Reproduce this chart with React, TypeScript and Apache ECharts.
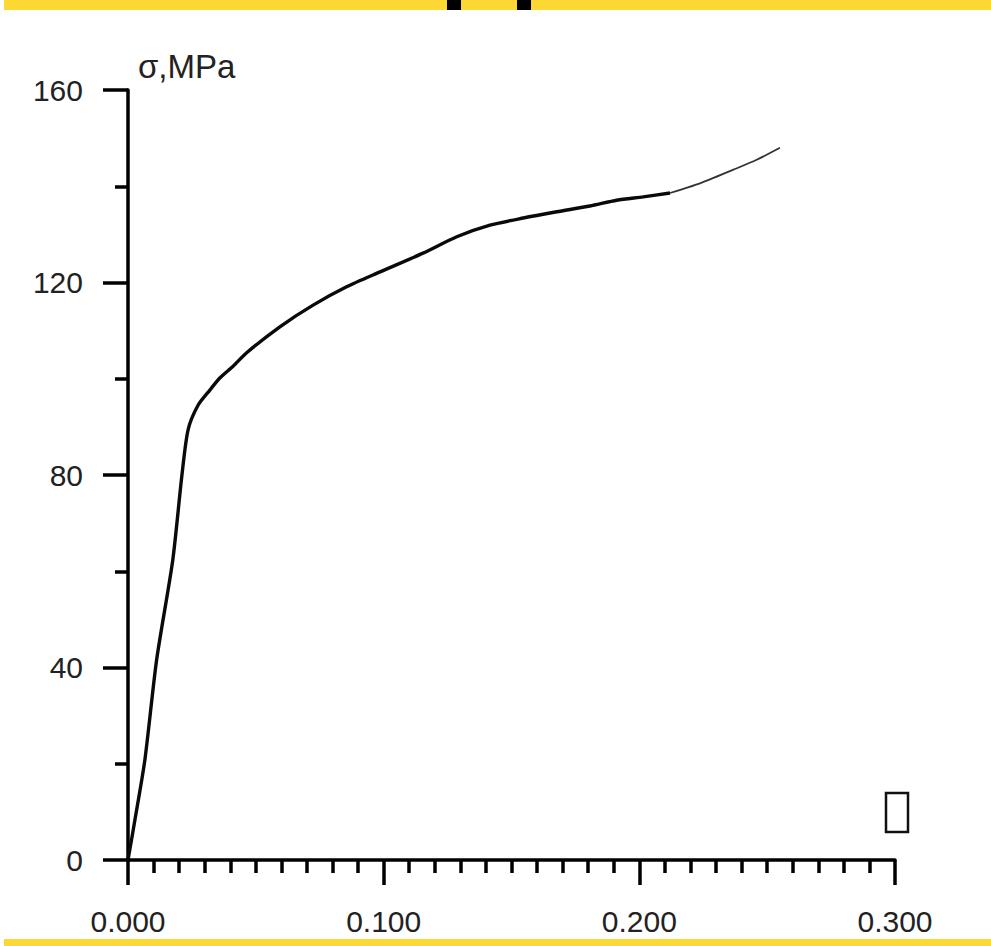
import React, { useEffect, useRef } from "react";
import * as echarts from "echarts";

const xTicks = [0, 0.1, 0.2, 0.3];
const yTicks = [0, 40, 80, 120, 160];
// main (thick) part of the stress-strain curve
const strainMain = [0, 0.0027, 0.0066, 0.0112, 0.0175, 0.0211, 0.0235, 0.0274, 0.0321, 0.036, 0.0411, 0.0464, 0.0594, 0.0724, 0.0855, 0.0986, 0.1154, 0.1286, 0.1416, 0.1546, 0.1677, 0.1807, 0.1912, 0.2015, 0.212];
const stressMain = [0, 8.3, 20.8, 41.6, 62.3, 80, 89.4, 94.5, 97.7, 100.2, 102.6, 105.4, 110.8, 115.3, 119.1, 122.2, 126.1, 129.5, 131.9, 133.4, 134.7, 135.9, 137.1, 137.8, 138.6];
// thin tail
const strainTail = [0.212, 0.2237, 0.2366, 0.2459, 0.255];
const stressTail = [138.6, 140.6, 143.4, 145.5, 148.0];

const yAxisTitle = "σ,MPa";

export default function App() {
  const ref = useRef<HTMLDivElement>(null);
  useEffect(() => {
    if (!ref.current) return;
    const chart = echarts.init(ref.current, null, { renderer: "svg" });
    const font = "Liberation Sans, Arial, sans-serif";
    const lbl = { color: "#222", fontFamily: font, fontSize: 30 };
    chart.setOption({
      animation: false,
      backgroundColor: "#fff",
      grid: { left: 128, right: 96, top: 90, bottom: 86, containLabel: false },
      xAxis: {
        type: "value",
        min: xTicks[0],
        max: xTicks[xTicks.length - 1],
        interval: 0.1,
        axisLine: { show: true, onZero: false, lineStyle: { color: "#000", width: 3.5 } },
        axisTick: { show: true, length: 25, lineStyle: { color: "#000", width: 3.5 } },
        minorTick: { show: true, splitNumber: 10, length: 13, lineStyle: { color: "#000", width: 3.5 } },
        splitLine: { show: false },
        axisLabel: { ...lbl, margin: 46, formatter: (v: number) => v.toFixed(3) },
      },
      yAxis: {
        type: "value",
        min: yTicks[0],
        max: yTicks[yTicks.length - 1],
        interval: 40,
        axisLine: { show: true, onZero: false, lineStyle: { color: "#000", width: 3.5 } },
        axisTick: { show: true, length: 25, lineStyle: { color: "#000", width: 3.5 } },
        minorTick: { show: true, splitNumber: 2, length: 13, lineStyle: { color: "#000", width: 3.5 } },
        splitLine: { show: false },
        axisLabel: { ...lbl, margin: 45 },
      },
      series: [
        {
          type: "line",
          data: strainMain.map((x, i) => [x, stressMain[i]]),
          showSymbol: false,
          symbol: "none",
          smooth: 0.25,
          lineStyle: { color: "#0a0a0a", width: 3.4 },
        },
        {
          type: "line",
          data: strainTail.map((x, i) => [x, stressTail[i]]),
          showSymbol: false,
          symbol: "none",
          smooth: 0.25,
          lineStyle: { color: "#333", width: 1.8 },
        },
      ],
      graphic: [
        { type: "rect", shape: { x: 4, y: 0, width: 987, height: 10 }, style: { fill: "#FDD835" } },
        { type: "rect", shape: { x: 447, y: 0, width: 14, height: 10 }, style: { fill: "#000" } },
        { type: "rect", shape: { x: 517, y: 0, width: 14, height: 10 }, style: { fill: "#000" } },
        { type: "rect", shape: { x: 4, y: 939, width: 987, height: 7 }, style: { fill: "#FDD835" } },
        {
          type: "text",
          left: 138,
          top: 50,
          style: { text: yAxisTitle, fill: "#222", font: "33px Liberation Sans, Arial, sans-serif" },
        },
        {
          type: "rect",
          shape: { x: 886, y: 793, width: 22, height: 39 },
          style: { fill: "none", stroke: "#111", lineWidth: 2.5 },
        },
      ],
    });
    return () => chart.dispose();
  }, []);
  return (
    <div
      ref={ref}
      style={{ position: "fixed", left: 0, top: 0, width: 991, height: 946, background: "#fff" }}
    />
  );
}
